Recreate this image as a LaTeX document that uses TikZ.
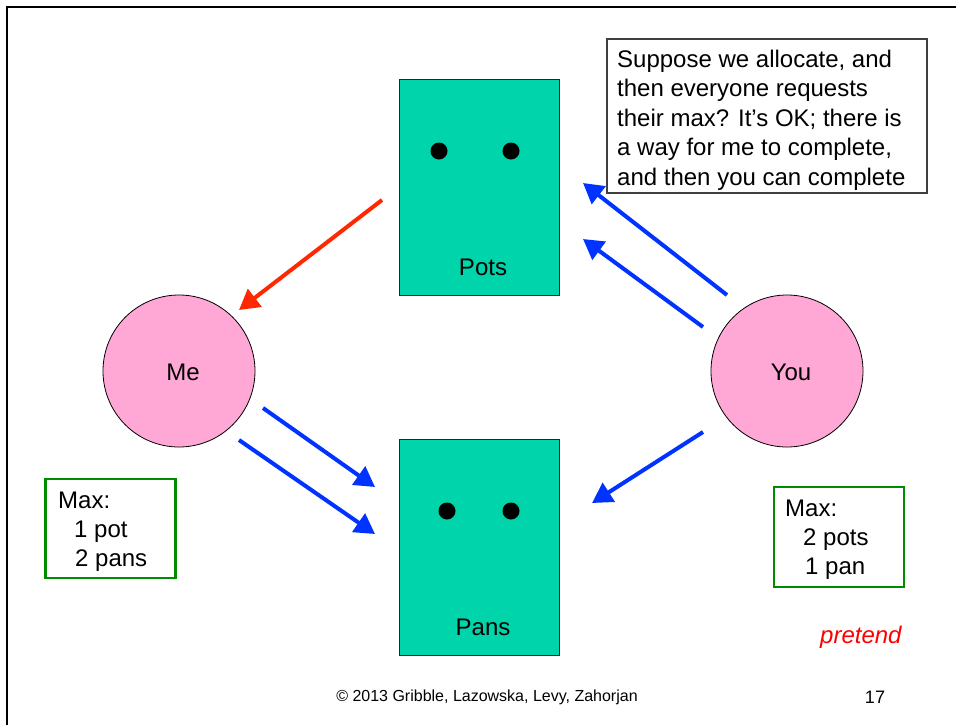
\documentclass[tikz,border=0pt]{standalone}
\usepackage{fontspec}
\setmainfont{Liberation Sans}
\usetikzlibrary{arrows.meta}
\definecolor{resfill}{RGB}{0,212,170}
\definecolor{personfill}{RGB}{255,168,214}
\definecolor{reqblue}{RGB}{0,51,255}
\definecolor{allocred}{RGB}{255,40,0}
\definecolor{maxgreen}{RGB}{0,140,0}
\definecolor{pretendred}{RGB}{255,0,0}
\tikzset{
  resbox/.style={draw=black!85, line width=0.9pt, fill=resfill, minimum width=160pt, minimum height=216pt, inner sep=0pt},
  unit/.style={circle, fill=black, minimum size=17pt, inner sep=0pt},
  person/.style={circle, draw=black, line width=0.8pt, fill=personfill, minimum size=152pt, inner sep=0pt},
  lbl/.style={font=\fontsize{24}{29}\selectfont, inner sep=0pt},
  maxbox/.style={draw=maxgreen, line width=2.6pt, inner sep=0pt},
  notebox/.style={draw=black!75, line width=1.2pt, inner sep=0pt, minimum width=320pt, minimum height=154pt},
  req/.style={draw=reqblue, line width=4pt, -{Triangle[length=20pt,width=22pt]}},
  alloc/.style={draw=allocred, line width=4pt, -{Triangle[length=20pt,width=22pt]}},
  foot/.style={font=\fontsize{16}{19}\selectfont, inner sep=0pt}
}
\begin{document}
\begin{tikzpicture}[x=1pt,y=-1pt]
\useasboundingbox (0,0) rectangle (956,724);
% slide frame
\draw[line width=2.6pt] (7,740) -- (7,7) -- (970,7);

% resources
\node[resbox] (pots) at (479,187) {};
\node[unit] (potdota) at (439,151) {};
\node[unit] (potdotb) at (511,151) {};
\node[lbl, anchor=base] (potslbl) at (483,275) {Pots};

\node[resbox] (pans) at (479,547) {};
\node[unit] (pandota) at (447,511) {};
\node[unit] (pandotb) at (511,511) {};
\node[lbl, anchor=base] (panslbl) at (483,635) {Pans};

% persons
\node[person] (me) at (179,371) {};
\node[lbl, anchor=base] (melbl) at (183,380) {Me};
\node[person] (you) at (787,371) {};
\node[lbl, anchor=base] (youlbl) at (791,380) {You};

% note
\node[notebox] (note) at (767,116) {};
\node[lbl, anchor=base west] (notea) at (617,67) {Suppose we allocate, and};
\node[lbl, anchor=base west] (noteb) at (617,96.5) {then everyone requests};
\node[lbl, anchor=base west] (notec) at (617,126) {their max? It’s OK; there is};
\node[lbl, anchor=base west] (noted) at (617,155.5) {a way for me to complete,};
\node[lbl, anchor=base west] (notee) at (617,185) {and then you can complete};

% max boxes
\node[maxbox, minimum width=130pt, minimum height=99pt] (memax) at (110.5,528.5) {};
\node[lbl, anchor=base west] (memaxa) at (58,508) {Max:};
\node[lbl, anchor=base west] (memaxb) at (74,537) {1 pot};
\node[lbl, anchor=base west] (memaxc) at (75,566) {2 pans};

\node[maxbox, minimum width=130pt, minimum height=100pt] (youmax) at (839,537) {};
\node[lbl, anchor=base west] (youmaxa) at (785,516) {Max:};
\node[lbl, anchor=base west] (youmaxb) at (803,545) {2 pots};
\node[lbl, anchor=base west] (youmaxc) at (805,574) {1 pan};

\node[lbl, anchor=base west, text=pretendred, font=\fontsize{24}{29}\selectfont\itshape] (pretend) at (820,643) {pretend};

% arrows
\coordinate (ra) at (382,200); \coordinate (rb) at (239,310);
\coordinate (b1a) at (263,408); \coordinate (b1b) at (375,487);
\coordinate (b2a) at (239,440); \coordinate (b2b) at (375,534);
\coordinate (b3a) at (703,432); \coordinate (b3b) at (592,503);
\coordinate (b4a) at (727,295); \coordinate (b4b) at (583,183);
\coordinate (b5a) at (703,327); \coordinate (b5b) at (583,239);
\draw[alloc] (ra) -- (rb);
\draw[req] (b1a) -- (b1b);
\draw[req] (b2a) -- (b2b);
\draw[req] (b3a) -- (b3b);
\draw[req] (b4a) -- (b4b);
\draw[req] (b5a) -- (b5b);

% footer
\node[foot, anchor=base] (copy) at (487,701) {© 2013 Gribble, Lazowska, Levy, Zahorjan};
\node[foot, anchor=base, font=\fontsize{18}{21}\selectfont] (pageno) at (875,703) {17};
\end{tikzpicture}
\end{document}
